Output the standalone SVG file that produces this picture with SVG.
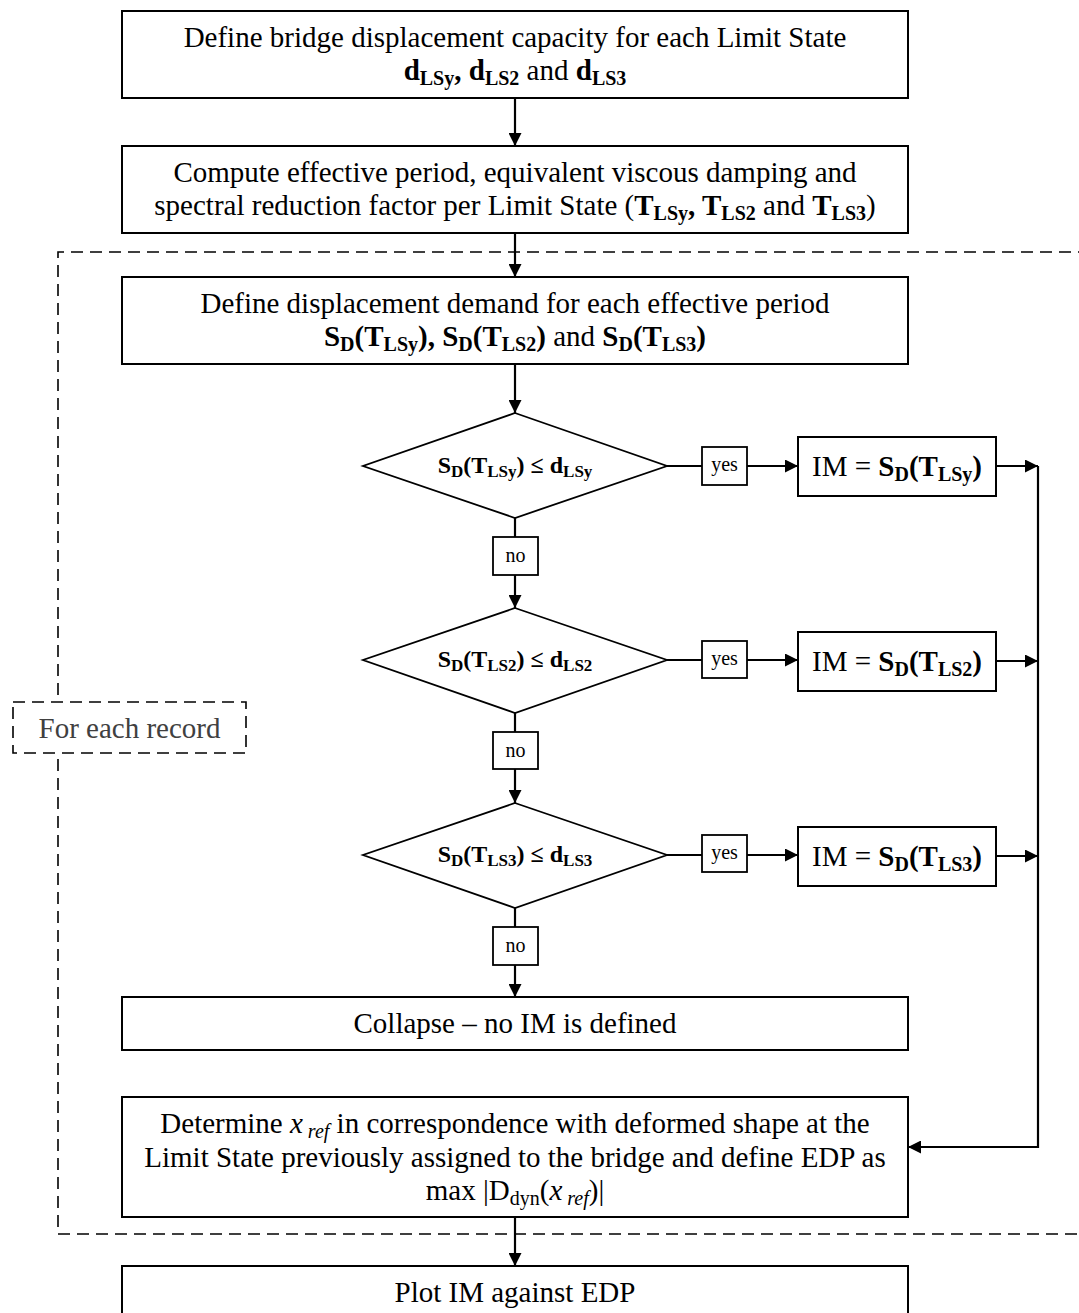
<svg xmlns="http://www.w3.org/2000/svg" width="1079" height="1313" viewBox="0 0 1079 1313">
<style>
text { font-family: "Liberation Serif", "Times New Roman", serif; fill: #000; }
.t { font-size: 29px; text-anchor: middle; }
.d { font-size: 24px; font-weight: bold; text-anchor: middle; }
.lbl { font-size: 20px; text-anchor: middle; }
.b { font-weight: bold; }
.i { font-style: italic; }
.s { font-size: 20px; }
.sd { font-size: 17px; }
.box { fill: #fff; stroke: #000; stroke-width: 2; }
.dia { fill: #fff; stroke: #000; stroke-width: 1.8; }
.lbox { fill: #fff; stroke: #000; stroke-width: 1.8; }
.ln { fill: none; stroke: #000; stroke-width: 2.2; }
.arr { fill: none; stroke: #000; stroke-width: 2.2; marker-end: url(#ah); }
.dash { fill: none; stroke: #000; stroke-width: 1.6; stroke-dasharray: 12 7; }
.gray { fill: #404040; }
</style>
<defs>
<marker id="ah" markerUnits="userSpaceOnUse" markerWidth="14" markerHeight="13" refX="13" refY="6.5" orient="auto">
<path d="M0,0 L13,6.5 L0,13 Z" fill="#000"/>
</marker>
</defs>
<rect width="1079" height="1313" fill="#fff"/>

<g id="loop-frame">
<path class="dash" d="M1090,252 H58 V1234 H1090"/>
</g>

<g id="connectors">
<line class="arr" x1="515" y1="98" x2="515" y2="146"/>
<line class="arr" x1="515" y1="233" x2="515" y2="277"/>
<line class="arr" x1="515" y1="364" x2="515" y2="413"/>
<line class="ln" x1="515" y1="518" x2="515" y2="537"/>
<line class="arr" x1="515" y1="575" x2="515" y2="608"/>
<line class="ln" x1="515" y1="713" x2="515" y2="732"/>
<line class="arr" x1="515" y1="769" x2="515" y2="803"/>
<line class="ln" x1="515" y1="908" x2="515" y2="927"/>
<line class="arr" x1="515" y1="965" x2="515" y2="997"/>
<line class="arr" x1="515" y1="1217" x2="515" y2="1266"/>
<line class="ln" x1="667" y1="466" x2="702" y2="466"/>
<line class="arr" x1="747" y1="466" x2="798" y2="466"/>
<line class="ln" x1="667" y1="660" x2="702" y2="660"/>
<line class="arr" x1="747" y1="660" x2="798" y2="660"/>
<line class="ln" x1="667" y1="855" x2="702" y2="855"/>
<line class="arr" x1="747" y1="855" x2="798" y2="855"/>
<line class="arr" x1="996" y1="466" x2="1038" y2="466"/>
<line class="arr" x1="996" y1="661" x2="1038" y2="661"/>
<line class="arr" x1="996" y1="856" x2="1038" y2="856"/>
<path class="arr" d="M1038,466 V1147 H908"/>
</g>

<g id="for-each-record">
<rect class="dash" x="13" y="702" width="233" height="51" style="fill:#fff"/>
<text class="t gray" x="129.5" y="738" style="font-size:29px">For each record</text>
</g>

<g id="capacity">
<rect class="box" x="122" y="11" width="786" height="87"/>
<text class="t" x="515" y="47">Define bridge displacement capacity for each Limit State</text>
<text class="t" x="515" y="80"><tspan class="b">d</tspan><tspan class="b s" dy="5">LSy</tspan><tspan class="b" dy="-5">, d</tspan><tspan class="b s" dy="5">LS2</tspan><tspan dy="-5"> and </tspan><tspan class="b">d</tspan><tspan class="b s" dy="5">LS3</tspan></text>
</g>

<g id="period">
<rect class="box" x="122" y="146" width="786" height="87"/>
<text class="t" x="515" y="182">Compute effective period, equivalent viscous damping and</text>
<text class="t" x="515" y="215">spectral reduction factor per Limit State (<tspan class="b">T</tspan><tspan class="b s" dy="5">LSy</tspan><tspan class="b" dy="-5">, T</tspan><tspan class="b s" dy="5">LS2</tspan><tspan dy="-5"> and </tspan><tspan class="b">T</tspan><tspan class="b s" dy="5">LS3</tspan><tspan dy="-5">)</tspan></text>
</g>

<g id="demand">
<rect class="box" x="122" y="277" width="786" height="87"/>
<text class="t" x="515" y="313">Define displacement demand for each effective period</text>
<text class="t" x="515" y="346"><tspan class="b">S</tspan><tspan class="b s" dy="5">D</tspan><tspan class="b" dy="-5">(T</tspan><tspan class="b s" dy="5">LSy</tspan><tspan class="b" dy="-5">), S</tspan><tspan class="b s" dy="5">D</tspan><tspan class="b" dy="-5">(T</tspan><tspan class="b s" dy="5">LS2</tspan><tspan class="b" dy="-5">)</tspan> and <tspan class="b">S</tspan><tspan class="b s" dy="5">D</tspan><tspan class="b" dy="-5">(T</tspan><tspan class="b s" dy="5">LS3</tspan><tspan class="b" dy="-5">)</tspan></text>
</g>

<g id="check-lsy">
<polygon class="dia" points="515,413 667,466 515,518 363,466"/>
<text class="d" x="515" y="473">S<tspan class="sd" dy="4">D</tspan><tspan dy="-4">(T</tspan><tspan class="sd" dy="4">LSy</tspan><tspan dy="-4">) ≤ d</tspan><tspan class="sd" dy="4">LSy</tspan></text>
</g>
<g id="no-1">
<rect class="lbox" x="493" y="537" width="45" height="38"/>
<text class="lbl" x="515.5" y="562">no</text>
</g>
<g id="yes-1">
<rect class="lbox" x="702" y="447" width="45" height="38"/>
<text class="lbl" x="724.5" y="471">yes</text>
</g>
<g id="im-lsy">
<rect class="box" x="798" y="437" width="198" height="59"/>
<text class="t" x="897" y="476">IM = <tspan class="b">S</tspan><tspan class="b s" dy="5">D</tspan><tspan class="b" dy="-5">(T</tspan><tspan class="b s" dy="5">LSy</tspan><tspan class="b" dy="-5">)</tspan></text>
</g>

<g id="check-ls2">
<polygon class="dia" points="515,608 667,660 515,713 363,660"/>
<text class="d" x="515" y="667">S<tspan class="sd" dy="4">D</tspan><tspan dy="-4">(T</tspan><tspan class="sd" dy="4">LS2</tspan><tspan dy="-4">) ≤ d</tspan><tspan class="sd" dy="4">LS2</tspan></text>
</g>
<g id="no-2">
<rect class="lbox" x="493" y="732" width="45" height="37"/>
<text class="lbl" x="515.5" y="757">no</text>
</g>
<g id="yes-2">
<rect class="lbox" x="702" y="641" width="45" height="37"/>
<text class="lbl" x="724.5" y="665">yes</text>
</g>
<g id="im-ls2">
<rect class="box" x="798" y="632" width="198" height="59"/>
<text class="t" x="897" y="671">IM = <tspan class="b">S</tspan><tspan class="b s" dy="5">D</tspan><tspan class="b" dy="-5">(T</tspan><tspan class="b s" dy="5">LS2</tspan><tspan class="b" dy="-5">)</tspan></text>
</g>

<g id="check-ls3">
<polygon class="dia" points="515,803 667,855 515,908 363,855"/>
<text class="d" x="515" y="862">S<tspan class="sd" dy="4">D</tspan><tspan dy="-4">(T</tspan><tspan class="sd" dy="4">LS3</tspan><tspan dy="-4">) ≤ d</tspan><tspan class="sd" dy="4">LS3</tspan></text>
</g>
<g id="no-3">
<rect class="lbox" x="493" y="927" width="45" height="38"/>
<text class="lbl" x="515.5" y="952">no</text>
</g>
<g id="yes-3">
<rect class="lbox" x="702" y="835" width="45" height="37"/>
<text class="lbl" x="724.5" y="859">yes</text>
</g>
<g id="im-ls3">
<rect class="box" x="798" y="827" width="198" height="59"/>
<text class="t" x="897" y="866">IM = <tspan class="b">S</tspan><tspan class="b s" dy="5">D</tspan><tspan class="b" dy="-5">(T</tspan><tspan class="b s" dy="5">LS3</tspan><tspan class="b" dy="-5">)</tspan></text>
</g>

<g id="collapse">
<rect class="box" x="122" y="997" width="786" height="53"/>
<text class="t" x="515" y="1033">Collapse – no IM is defined</text>
</g>

<g id="edp">
<rect class="box" x="122" y="1097" width="786" height="120"/>
<text class="t" x="515" y="1133">Determine <tspan class="i">x</tspan><tspan class="i s" dy="5"> ref</tspan><tspan dy="-5"> in correspondence with deformed shape at the</tspan></text>
<text class="t" x="515" y="1167">Limit State previously assigned to the bridge and define EDP as</text>
<text class="t" x="515" y="1200">max |D<tspan class="s" dy="5">dyn</tspan><tspan dy="-5">(</tspan><tspan class="i">x</tspan><tspan class="i s" dy="5"> ref</tspan><tspan dy="-5">)|</tspan></text>
</g>

<g id="plot">
<rect class="box" x="122" y="1266" width="786" height="60"/>
<text class="t" x="515" y="1302">Plot IM against EDP</text>
</g>
</svg>
